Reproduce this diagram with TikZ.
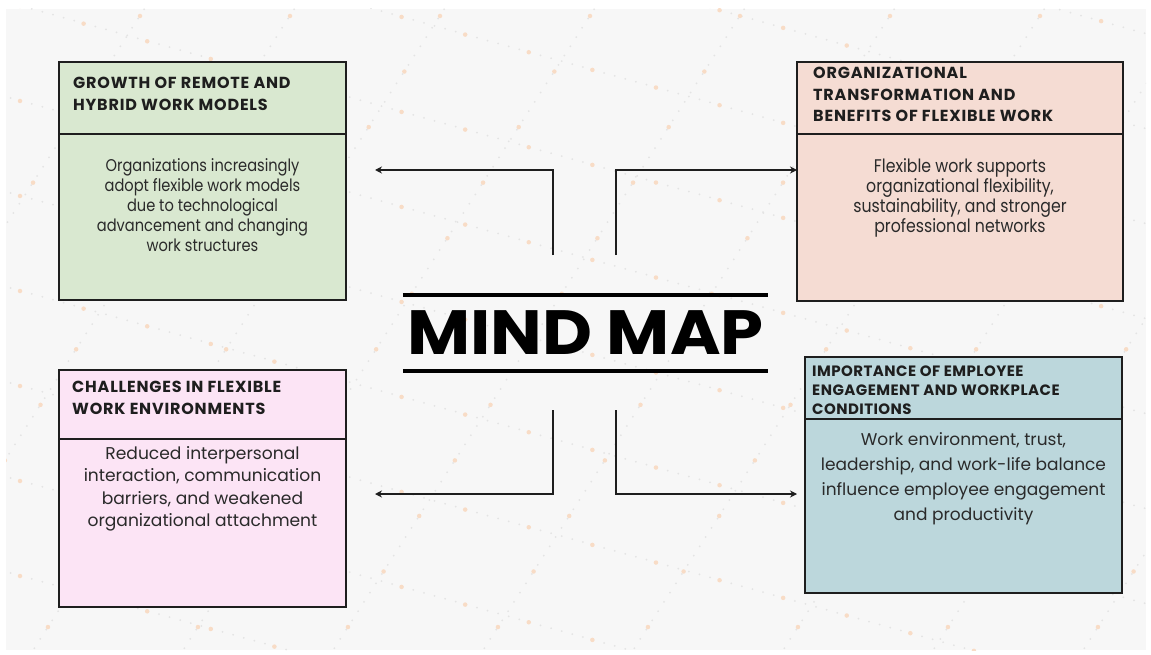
\documentclass[tikz,border=0pt]{standalone}
\usepackage{fontspec}
\setmainfont{Poppins}
\newfontfamily\narrowbody[FakeStretch=0.86]{Poppins}
\newfontfamily\headfont[LetterSpace=5]{Poppins}
\newfontfamily\smallheadfont[LetterSpace=3]{Poppins}
\newfontfamily\titlefont[FakeStretch=1.1]{Poppins}
\usetikzlibrary{arrows.meta}

\definecolor{panel}{HTML}{F7F7F7}
\definecolor{greenbox}{HTML}{D9E8D0}
\definecolor{salmonbox}{HTML}{F5DCD3}
\definecolor{pinkbox}{HTML}{FCE4F5}
\definecolor{bluebox}{HTML}{BCD7DC}
\definecolor{edge}{HTML}{1E1E1E}
\definecolor{ink}{HTML}{2A2A2A}
\definecolor{dotgrey}{HTML}{E4E4E4}
\definecolor{dotorange}{HTML}{F8DCC6}

\begin{document}
\begin{tikzpicture}[x=1pt,y=-1pt,
  boxpart/.style={draw=edge,line width=1.8pt,inner sep=0pt,outer sep=0pt,anchor=north west},
  headtext/.style={anchor=north west,align=left,inner sep=0pt,text=edge,
    font=\headfont\fontsize{16}{21.5}\selectfont\bfseries},
  bodytext/.style={anchor=north,align=center,inner sep=0pt,text=ink},
  conn/.style={draw=edge,line width=1.8pt,-{Stealth[length=7pt,width=7pt]}},
  rule/.style={draw=black,line width=4pt},
  greydots/.style={draw=dotgrey,line width=2pt,line cap=round,dash pattern=on 0pt off 11pt},
  orangedots/.style={draw=dotorange,line width=4.5pt,line cap=round,dash pattern=on 0pt off 66pt}]

\useasboundingbox (0,0) rectangle (1151,655);

% speckled backdrop
\fill[panel] (6,9) rectangle (1146,650);
\begin{scope}
  \clip (6,9) rectangle (1146,650);
  \foreach \k in {-6,...,8} {
    \draw[greydots] (0,\k*95) -- (1151,\k*95+320);
    \draw[orangedots] (20,\k*95+6) -- (1151,\k*95+320);
  }
  \foreach \k in {0,...,11} {
    \draw[greydots] (\k*150,0) -- (\k*150-420,655);
    \draw[orangedots] (\k*150-10,16) -- (\k*150-420,655);
  }
\end{scope}

% growth of remote work
\node[boxpart,fill=greenbox,minimum width=287pt,minimum height=72pt] (growthHead) at (59,62) {};
\node[boxpart,fill=greenbox,minimum width=287pt,minimum height=166pt] (growthBody) at (59,134) {};
\node[headtext] (growthTitle) at (73,77) {GROWTH OF REMOTE AND\\HYBRID WORK MODELS};
\node[bodytext,font=\narrowbody\fontsize{17}{20}\selectfont] (growthText) at (202.5,158)
  {Organizations increasingly\\adopt flexible work models\\due to technological\\advancement and changing\\work structures};

% organizational transformation
\node[boxpart,fill=salmonbox,minimum width=326pt,minimum height=72pt] (orgHead) at (797,62) {};
\node[boxpart,fill=salmonbox,minimum width=326pt,minimum height=167pt] (orgBody) at (797,134) {};
\node[headtext] (orgTitle) at (813,67) {ORGANIZATIONAL\\TRANSFORMATION AND\\BENEFITS OF FLEXIBLE WORK};
\node[bodytext,font=\narrowbody\fontsize{18.3}{20}\selectfont] (orgText) at (960,158)
  {Flexible work supports\\organizational flexibility,\\sustainability, and stronger\\professional networks};

% challenges
\node[boxpart,fill=pinkbox,minimum width=287pt,minimum height=69pt] (chalHead) at (59,370) {};
\node[boxpart,fill=pinkbox,minimum width=287pt,minimum height=168pt] (chalBody) at (59,439) {};
\node[headtext] (chalTitle) at (72,381) {CHALLENGES IN FLEXIBLE\\WORK ENVIRONMENTS};
\node[bodytext,font=\fontsize{17.1}{22.5}\selectfont] (chalText) at (202.5,446)
  {Reduced interpersonal\\interaction, communication\\barriers, and weakened\\organizational attachment};

% employee engagement
\node[boxpart,fill=bluebox,minimum width=317pt,minimum height=62pt] (engHead) at (805,357) {};
\node[boxpart,fill=bluebox,minimum width=317pt,minimum height=174pt] (engBody) at (805,419) {};
\node[headtext,font=\smallheadfont\fontsize{15}{19}\selectfont\bfseries] (engTitle) at (812,366)
  {IMPORTANCE OF EMPLOYEE\\ENGAGEMENT AND WORKPLACE\\CONDITIONS};
\node[bodytext,font=\fontsize{17}{25}\selectfont] (engText) at (963.5,432)
  {Work environment, trust,\\leadership, and work-life balance\\influence employee engagement\\and productivity};

% central title
\node[inner sep=0pt,minimum width=365pt,minimum height=76pt,
      font=\titlefont\fontsize{62.5}{62.5}\selectfont\bfseries] (title) at (585.5,333) {MIND MAP};
\draw[rule] (title.north west) -- (title.north east);
\draw[rule] (title.south west) -- (title.south east);

% connectors
\coordinate (tlStart) at (553,255);
\coordinate (tlEnd) at (375,170);
\coordinate (trStart) at (616,255);
\coordinate (trEnd) at (797,170);
\coordinate (blStart) at (553,410);
\coordinate (blEnd) at (375,494);
\coordinate (brStart) at (616,410);
\coordinate (brEnd) at (797,494);
\draw[conn] (tlStart) |- (tlEnd);
\draw[conn] (trStart) |- (trEnd);
\draw[conn] (blStart) |- (blEnd);
\draw[conn] (brStart) |- (brEnd);

\end{tikzpicture}
\end{document}
